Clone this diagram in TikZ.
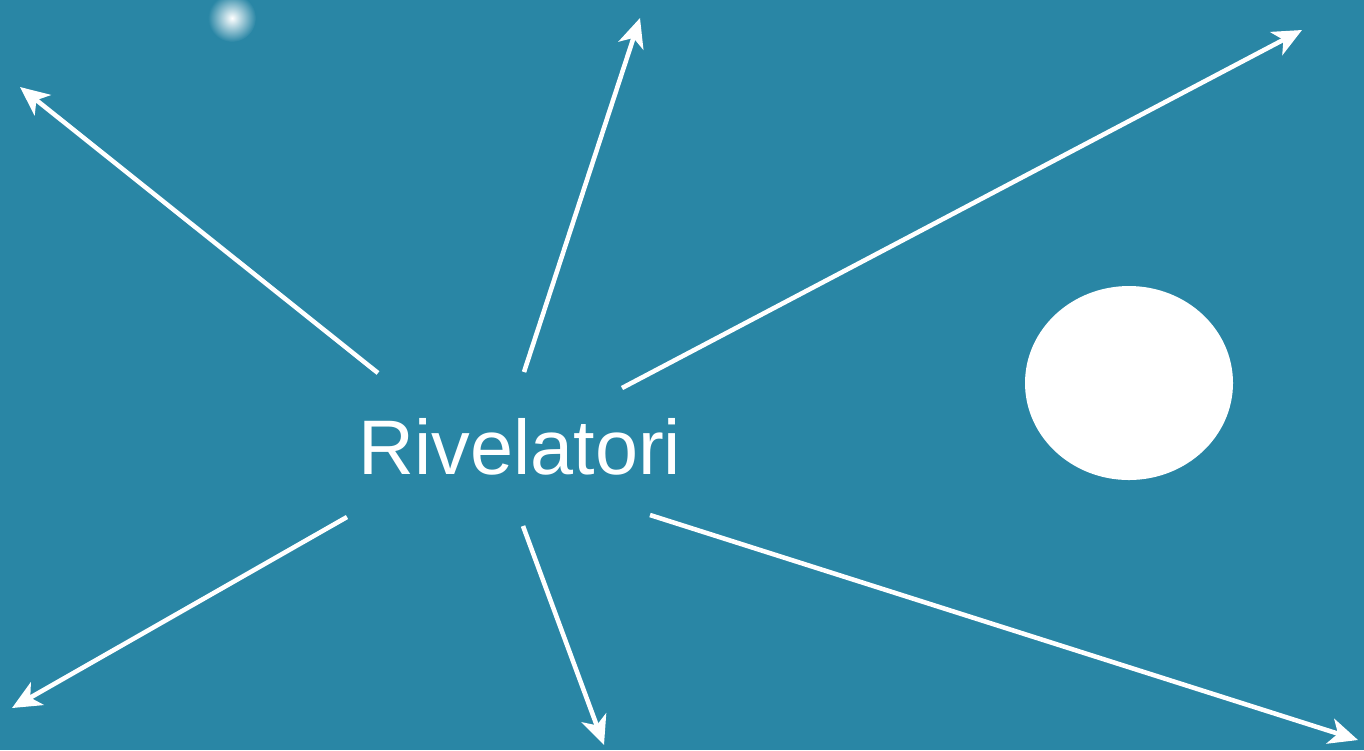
\documentclass[tikz,border=0pt]{standalone}
\usepackage{fontspec}
\setmainfont{Liberation Sans}
\usetikzlibrary{positioning,arrows.meta,calc}
\definecolor{sfondo}{RGB}{41,134,165}
\tikzset{>={Stealth[length=.29cm,width=.26cm,inset=.08cm]},
  raggio/.style={draw=white,line width=1.3pt,->}}

\begin{document}
\begin{tikzpicture}[x=.01cm,y=-.01cm]
\useasboundingbox (0,0) rectangle (1364,750);
\fill[sfondo] (0,0) rectangle (1364,750);
% stella sfocata in alto
\shade[inner color=white,outer color=sfondo] (232,18) circle [radius=24];
\fill[white] (1129,383) ellipse [x radius=104,y radius=97];
\node[text=white,font=\fontsize{22}{26}\selectfont] (riv) at (520,447) {Rivelatori};
% partenze e punte dei raggi
\coordinate (a1) at (378,373); \coordinate (b1) at (20,87);
\coordinate (a2) at (524,372); \coordinate (b2) at (640,18);
\coordinate (a3) at (622,388); \coordinate (b3) at (1302,30);
\coordinate (a4) at (347,517); \coordinate (b4) at (12,708);
\coordinate (a5) at (523,526); \coordinate (b5) at (604,745);
\coordinate (a6) at (650,515); \coordinate (b6) at (1358,740);
\foreach \i in {1,...,6}
  \draw[raggio] (a\i) -- (b\i);
\end{tikzpicture}
\end{document}
